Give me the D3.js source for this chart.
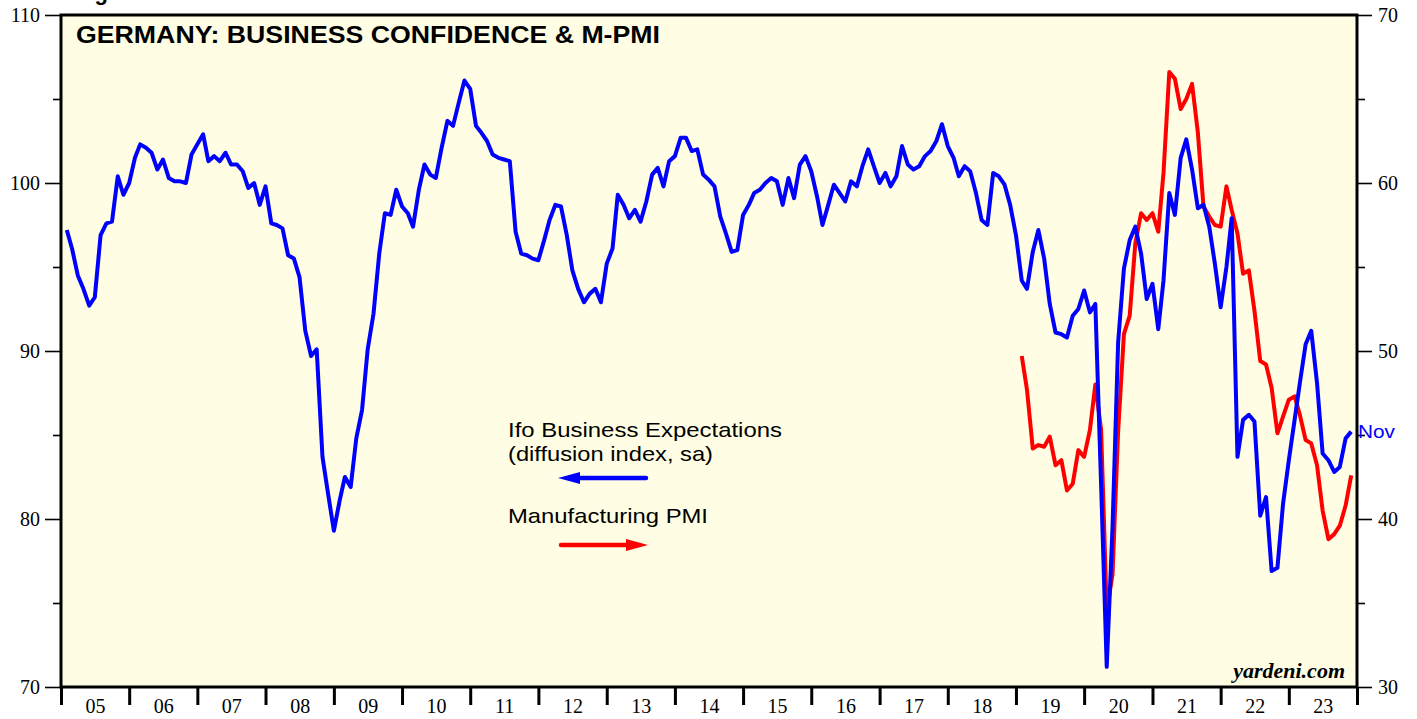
<!DOCTYPE html>
<html>
<head>
<meta charset="utf-8">
<script src="https://cdn.jsdelivr.net/npm/d3@7"></script>
<style>
  body { margin: 0; background: #ffffff; }
  svg { display: block; }
  .axis text { font-family: "Liberation Serif", "Times New Roman", serif; font-size: 20px; fill: #000; }
</style>
</head>
<body>
<div id="chart"></div>
<script>
// Ifo Business Expectations, monthly Jan 2005 - Nov 2023 (left axis)
var ifoStart = [2005, 0];
var ifoValues = [
    97.2, 96.1, 94.5, 93.7, 92.7, 93.2, 96.9, 97.6, 97.7, 100.4, 99.3, 100.0,
    101.5, 102.3, 102.1, 101.8, 100.8, 101.4, 100.3, 100.1, 100.1, 100.0, 101.7, 102.3,
    102.9, 101.3, 101.6, 101.3, 101.8, 101.1, 101.1, 100.7, 99.7, 100.0, 98.7, 99.8,
    97.6, 97.5, 97.3, 95.7, 95.5, 94.4, 91.2, 89.7, 90.1, 83.7, 81.5, 79.3,
    81.1, 82.5, 81.9, 84.8, 86.5, 90.1, 92.2, 95.8, 98.2, 98.1, 99.6, 98.6,
    98.2, 97.4, 99.6, 101.1, 100.5, 100.3, 102.1, 103.7, 103.4, 104.8, 106.1, 105.6,
    103.4, 103.0, 102.5, 101.7, 101.5, 101.4, 101.3, 97.1, 95.8, 95.7, 95.5, 95.4,
    96.6, 97.8, 98.7, 98.6, 96.9, 94.8, 93.7, 92.9, 93.4, 93.7, 92.9, 95.2,
    96.1, 99.3, 98.7, 97.9, 98.4, 97.7, 98.9, 100.5, 100.9, 99.8, 101.3, 101.6,
    102.7, 102.7, 101.9, 102.0, 100.5, 100.2, 99.8, 98.0, 97.0, 95.9, 96.0, 98.1,
    98.7, 99.4, 99.6, 100.0, 100.3, 100.1, 98.7, 100.3, 99.1, 101.1, 101.6, 100.7,
    99.2, 97.5, 98.7, 99.9, 99.4, 98.9, 100.1, 99.8, 101.0, 102.0, 101.0, 100.0,
    100.6, 99.8, 100.4, 102.2, 101.1, 100.8, 101.0, 101.6, 101.9, 102.5, 103.5, 102.2,
    101.5, 100.4, 101.0, 100.7, 99.4, 97.8, 97.5, 100.6, 100.4, 99.9, 98.7, 96.9,
    94.2, 93.7, 95.9, 97.2, 95.5, 92.8, 91.1, 91.0, 90.8, 92.1, 92.5, 93.6,
    92.3, 92.8, 82.0, 71.2, 79.5, 90.5, 94.9, 96.6, 97.4, 95.8, 93.1, 94.0,
    91.3, 94.2, 99.4, 98.1, 101.5, 102.6, 100.8, 98.5, 98.7, 97.4, 95.2, 92.6,
    95.0, 97.9, 83.7, 85.9, 86.2, 85.8, 80.2, 81.3, 76.9, 77.1, 80.9, 83.5,
    85.9, 88.1, 90.4, 91.2, 88.1, 83.9, 83.5, 82.8, 83.1, 84.8, 85.2
];

// Manufacturing PMI, monthly Jan 2019 - Nov 2023 (right axis)
var pmiStart = [2019, 0];
var pmiValues = [
    49.7, 47.7, 44.2, 44.4, 44.3, 44.9, 43.2, 43.5, 41.7, 42.1, 44.1, 43.7,
    45.3, 48.0, 45.3, 34.5, 36.7, 45.2, 51.0, 52.1, 56.4, 58.2, 57.8, 58.2,
    57.1, 60.6, 66.6, 66.2, 64.4, 65.0, 65.9, 63.0, 58.6, 58.0, 57.5, 57.4,
    59.8, 58.4, 57.0, 54.6, 54.8, 52.4, 49.4, 49.2, 47.8, 45.1, 46.1, 47.1,
    47.3, 46.2, 44.7, 44.5, 43.2, 40.5, 38.8, 39.1, 39.6, 40.8, 42.6
];

var leftTicks = [70, 80, 90, 100, 110];
var leftMinor = [75, 85, 95, 105];
var rightTicks = [30, 40, 50, 60, 70];
var rightMinor = [35, 45, 55, 65];
var yearTicks = d3.range(2005, 2025);
var yearLabels = d3.range(2005, 2024);

var width = 1417, height = 719;
var plotLeft = 61, plotRight = 1357, plotTop = 15, plotBottom = 687;

var svg = d3.select("#chart")
    .append("svg")
    .attr("width", width)
    .attr("height", height);

var x = d3.scaleTime()
    .domain([new Date(2005, 0, 1), new Date(2024, 0, 1)])
    .range([plotLeft, plotRight]);
var yLeft = d3.scaleLinear().domain([70, 110]).range([plotBottom, plotTop]);
var yRight = d3.scaleLinear().domain([30, 70]).range([plotBottom, plotTop]);

// values are plotted at the end of each month
function toSeries(start, values) {
    return values.map(function(v, i) {
        return { date: new Date(start[0], start[1] + i + 1, 1), value: v };
    });
}
var ifo = toSeries(ifoStart, ifoValues);
var pmi = toSeries(pmiStart, pmiValues);

// heading above the frame, only its descender shows
svg.append("text")
    .attr("x", 75)
    .attr("y", 0)
    .style("font-family", "Liberation Sans, Arial, sans-serif")
    .style("font-weight", "bold")
    .style("font-size", "22px")
    .text("Figure 1.");

svg.append("rect")
    .attr("x", plotLeft)
    .attr("y", plotTop)
    .attr("width", plotRight - plotLeft)
    .attr("height", plotBottom - plotTop)
    .attr("fill", "#fffee4");

svg.append("defs").append("clipPath")
    .attr("id", "clip")
    .append("rect")
    .attr("x", plotLeft)
    .attr("y", plotTop)
    .attr("width", plotRight - plotLeft)
    .attr("height", plotBottom - plotTop);

// left axis
svg.append("g").attr("class", "axis")
    .attr("transform", "translate(" + plotLeft + ",0)")
    .call(d3.axisLeft(yLeft).tickValues(leftTicks).tickSize(16).tickPadding(5).tickFormat(d3.format("d")));
svg.append("g").attr("class", "axis")
    .attr("transform", "translate(" + plotLeft + ",0)")
    .call(d3.axisLeft(yLeft).tickValues(leftMinor).tickSize(8).tickFormat(""));

// right axis
svg.append("g").attr("class", "axis")
    .attr("transform", "translate(" + plotRight + ",0)")
    .call(d3.axisRight(yRight).tickValues(rightTicks).tickSize(15).tickPadding(6).tickFormat(d3.format("d")));
svg.append("g").attr("class", "axis")
    .attr("transform", "translate(" + plotRight + ",0)")
    .call(d3.axisRight(yRight).tickValues(rightMinor).tickSize(8).tickFormat(""));

// bottom axis: year boundaries as ticks, labels in the middle of each year
svg.append("g").attr("class", "axis xticks")
    .attr("transform", "translate(0," + plotBottom + ")")
    .call(d3.axisBottom(x).tickValues(yearTicks.map(function(y) { return new Date(y, 0, 1); })).tickSize(18).tickFormat(""));
svg.append("g").attr("class", "axis")
    .attr("transform", "translate(0," + plotBottom + ")")
    .call(d3.axisBottom(x).tickValues(yearLabels.map(function(y) { return new Date(y, 6, 2); })).tickSize(0).tickPadding(12).tickFormat(d3.timeFormat("%y")));

svg.selectAll(".axis .domain").remove();
svg.selectAll(".axis line").attr("stroke", "#000").attr("stroke-width", 1.6);
svg.selectAll(".xticks line").attr("stroke-width", 3);

var lineLeft = d3.line()
    .x(function(d) { return x(d.date); })
    .y(function(d) { return yLeft(d.value); });
var lineRight = d3.line()
    .x(function(d) { return x(d.date); })
    .y(function(d) { return yRight(d.value); });

var lines = svg.append("g").attr("clip-path", "url(#clip)");
lines.append("path")
    .datum(pmi)
    .attr("d", lineRight)
    .attr("fill", "none")
    .attr("stroke", "#ff0000")
    .attr("stroke-width", 4)
    .attr("stroke-linejoin", "round");
lines.append("path")
    .datum(ifo)
    .attr("d", lineLeft)
    .attr("fill", "none")
    .attr("stroke", "#0000ff")
    .attr("stroke-width", 4)
    .attr("stroke-linejoin", "round");

// frame
svg.append("rect")
    .attr("x", plotLeft)
    .attr("y", plotTop)
    .attr("width", plotRight - plotLeft)
    .attr("height", plotBottom - plotTop)
    .attr("fill", "none")
    .attr("stroke", "#000")
    .attr("stroke-width", 3);

var sans = "Liberation Sans, Arial, sans-serif";

svg.append("text")
    .attr("x", 76)
    .attr("y", 43)
    .attr("textLength", 584)
    .attr("lengthAdjust", "spacingAndGlyphs")
    .style("font-family", sans)
    .style("font-weight", "bold")
    .style("font-size", "23px")
    .text("GERMANY: BUSINESS CONFIDENCE & M-PMI");

// legend
svg.append("text").attr("x", 508).attr("y", 437)
    .attr("textLength", 274).attr("lengthAdjust", "spacingAndGlyphs")
    .style("font-family", sans).style("font-size", "21px")
    .text("Ifo Business Expectations");
svg.append("text").attr("x", 508).attr("y", 461)
    .attr("textLength", 205).attr("lengthAdjust", "spacingAndGlyphs")
    .style("font-family", sans).style("font-size", "21px")
    .text("(diffusion index, sa)");
svg.append("text").attr("x", 508).attr("y", 523)
    .attr("textLength", 200).attr("lengthAdjust", "spacingAndGlyphs")
    .style("font-family", sans).style("font-size", "21px")
    .text("Manufacturing PMI");

svg.append("line")
    .attr("x1", 575).attr("y1", 478).attr("x2", 646).attr("y2", 478)
    .attr("stroke", "#0000ff").attr("stroke-width", 4.5).attr("stroke-linecap", "round");
svg.append("path")
    .attr("d", "M558,478 L580,472 L580,484 Z")
    .attr("fill", "#0000ff");
svg.append("line")
    .attr("x1", 561).attr("y1", 545).attr("x2", 630).attr("y2", 545)
    .attr("stroke", "#ff0000").attr("stroke-width", 4.5).attr("stroke-linecap", "round");
svg.append("path")
    .attr("d", "M648,545 L626,539 L626,551 Z")
    .attr("fill", "#ff0000");

svg.append("text")
    .attr("x", 1358)
    .attr("y", 438)
    .attr("textLength", 37)
    .attr("lengthAdjust", "spacingAndGlyphs")
    .style("font-family", sans)
    .style("font-size", "19px")
    .attr("fill", "#0000ff")
    .text("Nov");

svg.append("text")
    .attr("x", 1345)
    .attr("y", 678)
    .attr("text-anchor", "end")
    .style("font-family", "Liberation Serif, Times New Roman, serif")
    .style("font-weight", "bold")
    .style("font-style", "italic")
    .style("font-size", "22px")
    .text("yardeni.com");
</script>
</body>
</html>
